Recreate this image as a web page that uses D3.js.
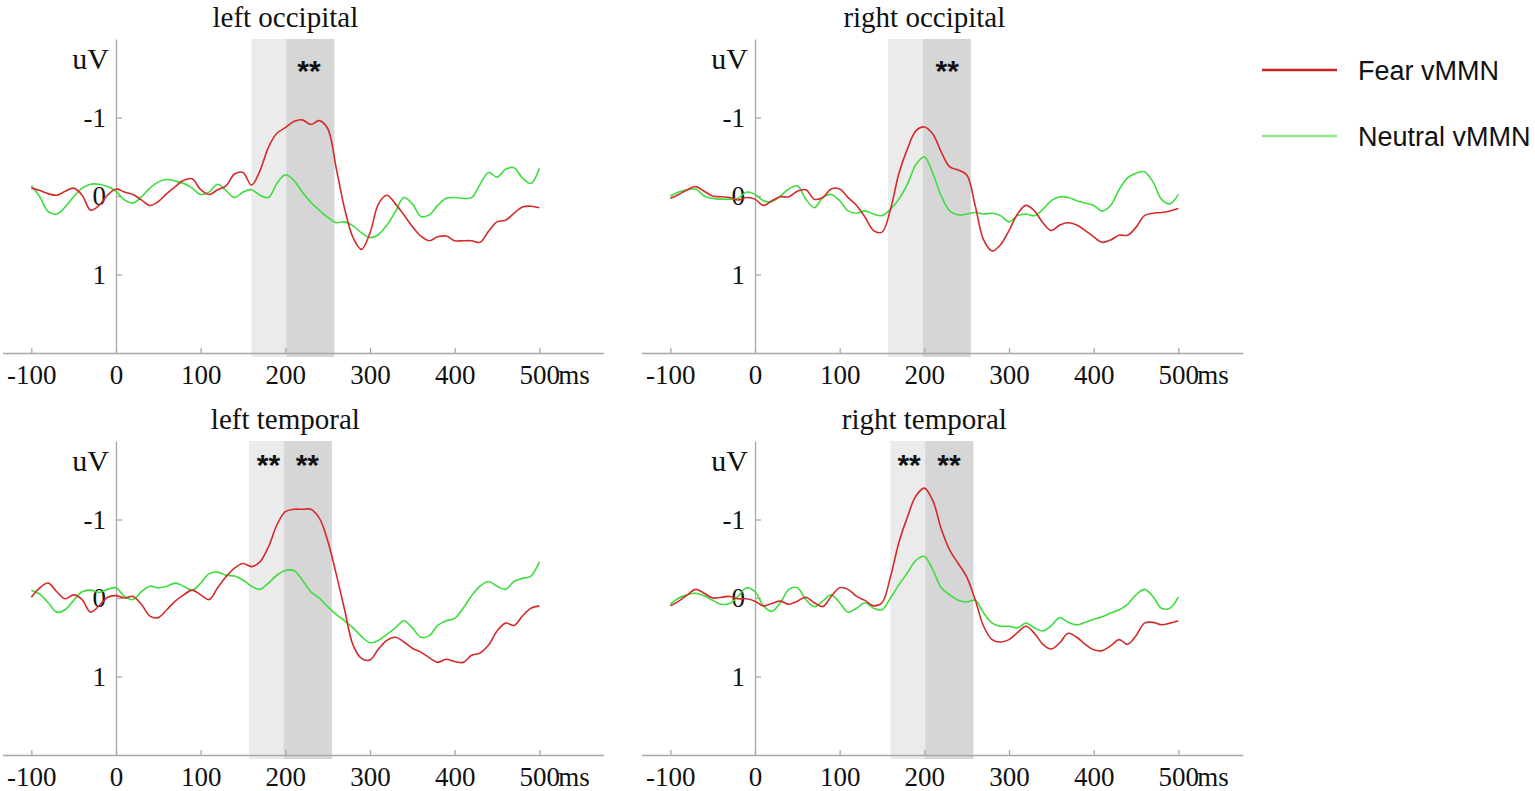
<!DOCTYPE html>
<html>
<head>
<meta charset="utf-8">
<script src="https://cdn.jsdelivr.net/npm/d3@7"></script>
<style>
  body { margin: 0; background: #fff; }
  svg { display: block; }
</style>
</head>
<body>
<div id="chart"></div>
<script>
// sample times (ms)
const times = [-100, -90, -80, -70, -60, -50, -40, -30, -20, -10,
  0, 10, 20, 30, 40, 50, 60, 70, 80, 90,
  100, 110, 120, 130, 140, 150, 160, 170, 180, 190,
  200, 210, 220, 230, 240, 250, 260, 270, 280, 290,
  300, 310, 320, 330, 340, 350, 360, 370, 380, 390,
  400, 410, 420, 430, 440, 450, 460, 470, 480, 490, 500];

// amplitudes in uV (negative is drawn up)
const leftOccFear = [-0.10, -0.07, -0.03, -0.01, -0.06, -0.10, -0.01, 0.18, 0.12, -0.01,
  -0.09, -0.05, -0.02, 0.05, 0.12, 0.07, -0.03, -0.12, -0.20, -0.22,
  -0.08, -0.02, -0.08, -0.13, -0.28, -0.30, -0.14, -0.32, -0.62, -0.80,
  -0.87, -0.95, -0.97, -0.91, -0.96, -0.86, -0.36, 0.16, 0.53, 0.68,
  0.47, 0.10, -0.01, 0.10, 0.24, 0.39, 0.51, 0.57, 0.52, 0.51,
  0.57, 0.57, 0.57, 0.59, 0.45, 0.33, 0.31, 0.22, 0.14, 0.13, 0.15];
const leftOccNeutral = [-0.13, 0.01, 0.20, 0.23, 0.14, 0.01, -0.10, -0.15, -0.15, -0.12,
  -0.06, 0.05, 0.09, 0.01, -0.10, -0.18, -0.21, -0.19, -0.16, -0.10,
  -0.02, -0.05, -0.15, -0.07, 0.02, -0.05, -0.08, -0.01, 0.02, -0.16,
  -0.27, -0.20, -0.05, 0.08, 0.18, 0.27, 0.34, 0.33, 0.38, 0.47,
  0.53, 0.49, 0.37, 0.20, 0.02, 0.10, 0.26, 0.24, 0.12, 0.03,
  0.02, 0.03, 0.02, -0.15, -0.30, -0.24, -0.34, -0.36, -0.23, -0.16, -0.35];

const rightOccFear = [0.03, -0.02, -0.08, -0.12, -0.06, 0.00, 0.01, 0.02, 0.05, 0.02,
  0.04, 0.12, 0.06, 0.01, 0.01, -0.06, -0.08, 0.04, 0.02, -0.09,
  -0.09, 0.02, 0.12, 0.27, 0.44, 0.46, 0.17, -0.29, -0.60, -0.83,
  -0.88, -0.79, -0.56, -0.37, -0.33, -0.27, 0.12, 0.56, 0.70, 0.62,
  0.44, 0.23, 0.12, 0.19, 0.34, 0.44, 0.37, 0.34, 0.37, 0.44,
  0.52, 0.59, 0.56, 0.50, 0.50, 0.40, 0.25, 0.22, 0.21, 0.19, 0.16];
const rightOccNeutral = [0.00, -0.05, -0.08, -0.09, 0.00, 0.03, 0.04, 0.04, 0.03, -0.05,
  -0.02, 0.06, 0.07, 0.00, -0.09, -0.13, 0.04, 0.15, 0.02, -0.02,
  0.06, 0.19, 0.22, 0.19, 0.23, 0.25, 0.17, 0.04, -0.15, -0.40,
  -0.50, -0.29, 0.00, 0.19, 0.24, 0.23, 0.21, 0.23, 0.22, 0.25,
  0.33, 0.25, 0.23, 0.25, 0.17, 0.06, 0.01, 0.02, 0.06, 0.09,
  0.12, 0.19, 0.12, -0.08, -0.23, -0.29, -0.31, -0.18, 0.04, 0.10, -0.02];

const leftTempFear = [-0.01, -0.13, -0.19, -0.08, 0.01, -0.04, 0.02, 0.18, 0.10, -0.01,
  -0.03, 0.00, -0.02, 0.08, 0.23, 0.25, 0.15, 0.04, -0.04, -0.10,
  -0.04, 0.02, -0.13, -0.27, -0.38, -0.44, -0.40, -0.46, -0.65, -0.93,
  -1.10, -1.13, -1.13, -1.13, -1.02, -0.73, -0.31, 0.15, 0.60, 0.77,
  0.79, 0.65, 0.54, 0.50, 0.56, 0.64, 0.69, 0.76, 0.82, 0.78,
  0.81, 0.82, 0.73, 0.70, 0.60, 0.42, 0.32, 0.35, 0.23, 0.13, 0.10];
const leftTempNeutral = [-0.10, -0.05, 0.06, 0.18, 0.15, 0.03, -0.08, -0.10, -0.07, -0.11,
  -0.13, -0.02, 0.02, -0.08, -0.15, -0.13, -0.15, -0.19, -0.15, -0.10,
  -0.19, -0.31, -0.33, -0.29, -0.28, -0.23, -0.15, -0.11, -0.19, -0.29,
  -0.35, -0.35, -0.23, -0.08, 0.00, 0.11, 0.21, 0.29, 0.38, 0.49,
  0.57, 0.54, 0.46, 0.38, 0.29, 0.38, 0.50, 0.48, 0.35, 0.29,
  0.26, 0.13, -0.03, -0.15, -0.21, -0.15, -0.11, -0.21, -0.25, -0.28, -0.46];

const rightTempFear = [0.10, 0.04, -0.04, -0.11, -0.06, 0.00, -0.01, -0.02, 0.01, 0.01,
  0.04, 0.10, 0.07, 0.04, 0.08, 0.04, -0.01, 0.06, 0.11, -0.02,
  -0.13, -0.11, -0.02, 0.03, 0.10, 0.06, -0.27, -0.71, -1.03, -1.30,
  -1.40, -1.24, -0.88, -0.61, -0.44, -0.27, 0.02, 0.36, 0.53, 0.56,
  0.53, 0.44, 0.36, 0.45, 0.59, 0.65, 0.57, 0.45, 0.50, 0.59,
  0.66, 0.67, 0.61, 0.53, 0.59, 0.48, 0.32, 0.31, 0.34, 0.32, 0.29];
const rightTempNeutral = [0.08, 0.00, -0.04, -0.06, -0.03, 0.03, 0.08, 0.07, -0.02, -0.13,
  -0.08, 0.10, 0.17, 0.06, -0.11, -0.13, 0.02, 0.11, 0.04, -0.04,
  0.06, 0.18, 0.13, 0.06, 0.13, 0.15, 0.00, -0.17, -0.32, -0.48,
  -0.53, -0.36, -0.13, -0.04, 0.03, 0.05, 0.03, 0.19, 0.32, 0.36,
  0.36, 0.38, 0.32, 0.38, 0.42, 0.35, 0.25, 0.31, 0.34, 0.31,
  0.27, 0.24, 0.19, 0.15, 0.08, -0.04, -0.11, -0.02, 0.13, 0.13, -0.01];

const panelTitles = ["left occipital", "right occipital", "left temporal", "right temporal"];
// shaded windows: [light start, light end / dark start, dark end] in ms
const shadeWindows = [[160, 201, 258], [157, 198, 255], [157, 198, 255], [160, 201, 258]];
// centre of each "**" marker, ms
const starTimes = [[228], [227], [180, 226], [182, 229]];

const xTicks = [-100, 0, 100, 200, 300, 400, 500];
const yTicks = [-1, 0, 1];
const seriesNames = ["Fear vMMN", "Neutral vMMN"];

// layout
const W = 1535, H = 791;
const colX0 = [116, 755];     // pixel of t = 0 in each column
const rowTop = [39, 441];     // top of y axis in each row
const plotH = 314;
const pxPerMs = 0.8467;
const axisExtent = [-134, 576];
const FEAR = "#d42a2a", NEUTRAL = "#3edc3e";
const SERIF = "'Liberation Serif', 'Times New Roman', serif";
const SANS = "'Liberation Sans', Arial, sans-serif";
const TICK_FONT = 27;

const svg = d3.select("#chart").append("svg")
  .attr("width", W).attr("height", H)
  .attr("viewBox", `0 0 ${W} ${H}`);

const panels = [
  { fear: leftOccFear, neutral: leftOccNeutral, col: 0, row: 0 },
  { fear: rightOccFear, neutral: rightOccNeutral, col: 1, row: 0 },
  { fear: leftTempFear, neutral: leftTempNeutral, col: 0, row: 1 },
  { fear: rightTempFear, neutral: rightTempNeutral, col: 1, row: 1 }
];

function drawPanel(p, i) {
  const x0 = colX0[p.col], top = rowTop[p.row], bottom = top + plotH;

  const x = d3.scaleLinear()
    .domain(axisExtent)
    .range([x0 + axisExtent[0] * pxPerMs, x0 + axisExtent[1] * pxPerMs]);
  const y = d3.scaleLinear().domain([-2, 2]).range([top, bottom]);

  const g = svg.append("g");

  // shaded time windows
  const w = shadeWindows[i];
  g.append("rect")
    .attr("x", x(w[0])).attr("y", top)
    .attr("width", x(w[1]) - x(w[0])).attr("height", plotH + 4)
    .attr("fill", "#ebebeb");
  g.append("rect")
    .attr("x", x(w[1])).attr("y", top)
    .attr("width", x(w[2]) - x(w[1])).attr("height", plotH + 4)
    .attr("fill", "#d6d6d6");

  // x axis, ticks pointing up
  const xa = g.append("g")
    .attr("transform", `translate(0,${bottom})`)
    .call(d3.axisBottom(x).tickValues(xTicks).tickSizeInner(-5).tickSizeOuter(0)
      .tickPadding(12).tickFormat(d => String(d)));

  // y axis on t = 0, ticks pointing right
  const ya = g.append("g")
    .attr("transform", `translate(${x(0)},0)`)
    .call(d3.axisLeft(y).tickValues(yTicks).tickSizeInner(-6).tickSizeOuter(0)
      .tickPadding(10).tickFormat(d => String(d)));

  [xa, ya].forEach(a => {
    a.attr("font-family", SERIF).attr("font-size", TICK_FONT);
    a.selectAll("path, line").attr("stroke", "#a8a8a8").attr("stroke-width", 1.3);
    a.selectAll("text").attr("fill", "#111");
  });

  g.append("text")
    .attr("x", x(500) + 19).attr("y", bottom + 12).attr("dy", "0.71em")
    .attr("font-family", SERIF).attr("font-size", TICK_FONT).attr("fill", "#111")
    .text("ms");

  g.append("text")
    .attr("x", x(0) - 7).attr("y", top + 30)
    .attr("text-anchor", "end")
    .attr("font-family", SERIF).attr("font-size", 30).attr("fill", "#111")
    .text("uV");

  g.append("text")
    .attr("x", x(200)).attr("y", top - 12)
    .attr("text-anchor", "middle")
    .attr("font-family", SERIF).attr("font-size", 29).attr("fill", "#111")
    .text(panelTitles[i]);

  // significance markers
  g.selectAll("text.star")
    .data(starTimes[i])
    .enter().append("text")
    .attr("class", "star")
    .attr("x", d => x(d)).attr("y", top + (p.row === 0 ? 42 : 34))
    .attr("text-anchor", "middle")
    .attr("font-family", SANS).attr("font-size", 30).attr("font-weight", "bold")
    .attr("fill", "#111")
    .text("**");

  const line = d3.line()
    .x(d => x(d[0]))
    .y(d => y(d[1]))
    .curve(d3.curveCatmullRom.alpha(0.5));

  g.append("path")
    .datum(d3.zip(times, p.neutral))
    .attr("fill", "none").attr("stroke", NEUTRAL).attr("stroke-width", 1.6)
    .attr("d", line);
  g.append("path")
    .datum(d3.zip(times, p.fear))
    .attr("fill", "none").attr("stroke", FEAR).attr("stroke-width", 1.6)
    .attr("d", line);
}

panels.forEach(drawPanel);

// legend
const legend = svg.append("g");
const legendColors = ["#cf2020", "#8ee68e"];
const legendY = [70, 136];
seriesNames.forEach((name, k) => {
  legend.append("line")
    .attr("x1", 1262).attr("x2", 1337)
    .attr("y1", legendY[k]).attr("y2", legendY[k])
    .attr("stroke", legendColors[k]).attr("stroke-width", 2.5);
  legend.append("text")
    .attr("x", 1358).attr("y", legendY[k] + 10)
    .attr("font-family", SANS).attr("font-size", 27).attr("fill", "#111")
    .text(name);
});
</script>
</body>
</html>
